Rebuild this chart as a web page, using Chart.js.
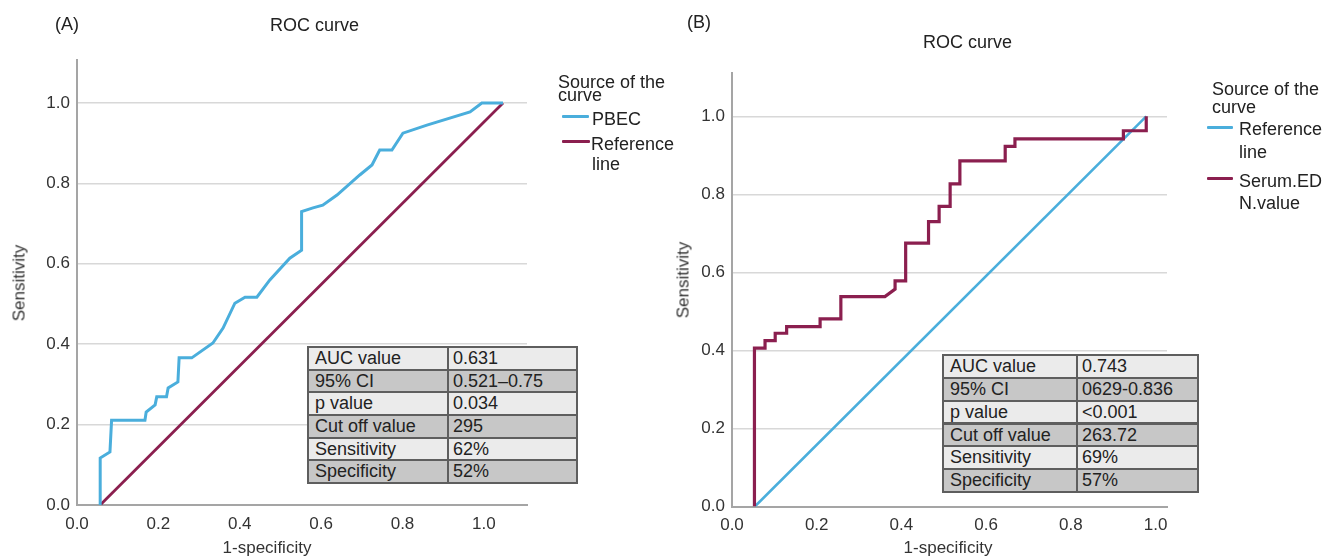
<!DOCTYPE html>
<html><head><meta charset="utf-8">
<script src="https://cdn.jsdelivr.net/npm/chart.js@4.4.1/dist/chart.umd.min.js"></script>
<style>
html,body{margin:0;padding:0;background:#fff;width:1326px;height:558px;overflow:hidden;position:relative;font-family:"Liberation Sans",Arial,sans-serif;}
canvas{position:absolute;top:0;}
#cA{left:0}
#cB{left:660px}
.t{position:absolute;font-size:18px;line-height:18px;color:#222;white-space:nowrap}
.ax{position:absolute;font-size:17px;line-height:17px;color:#333;white-space:nowrap;transform:translate(-50%,-50%)}
.ax.rot{transform:translate(-50%,-50%) rotate(-90deg)}
.sw{position:absolute;height:3px;border-radius:1px}
.tbl{position:absolute;background:#5e5e5e}
.cell{position:absolute;font-size:18px;line-height:18px;color:#222;white-space:nowrap;overflow:hidden;box-sizing:border-box}
</style></head>
<body>
<canvas id="cA" width="540" height="558"></canvas>
<canvas id="cB" width="666" height="558"></canvas>

<div class="t" style="left:55px;top:15px">(A)</div>
<div class="t" style="left:270px;top:16px">ROC curve</div>
<div class="t" style="left:687px;top:13px">(B)</div>
<div class="t" style="left:923px;top:33px">ROC curve</div>

<div class="ax rot" style="left:19px;top:283px">Sensitivity</div>
<div class="ax" style="left:267px;top:547px">1-specificity</div>
<div class="ax rot" style="left:683px;top:280px">Sensitivity</div>
<div class="ax" style="left:948px;top:547px">1-specificity</div>

<div class="t" style="left:558px;top:73px">Source of the</div>
<div class="t" style="left:558px;top:86px">curve</div>
<div class="sw" id="swA1" style="left:562px;top:115px;width:27px"></div>
<div class="t" style="left:592px;top:110px">PBEC</div>
<div class="sw" id="swA2" style="left:562px;top:140px;width:28px"></div>
<div class="t" style="left:591px;top:135px">Reference</div>
<div class="t" style="left:592px;top:155px">line</div>

<div class="t" style="left:1212px;top:80px">Source of the</div>
<div class="t" style="left:1212px;top:98px">curve</div>
<div class="sw" id="swB1" style="left:1207px;top:126px;width:26px"></div>
<div class="t" style="left:1239px;top:120px">Reference</div>
<div class="t" style="left:1239px;top:143px">line</div>
<div class="sw" id="swB2" style="left:1207px;top:177px;width:26px"></div>
<div class="t" style="left:1239px;top:172px">Serum.ED</div>
<div class="t" style="left:1239px;top:194px">N.value</div>

<div class="tbl" id="tA" style="left:307px;top:346px;width:271px;height:138px"></div>
<div class="tbl" id="tB" style="left:942px;top:354px;width:257px;height:139px"></div>

<script>
const FONT = '"Liberation Sans", Arial, sans-serif';
const BLUE = '#4aaedc';
const MAROON = '#8b1f4f';

const xTickValues = [0, 0.2, 0.4, 0.6, 0.8, 1.0];
const yTickValues = [0, 0.2, 0.4, 0.6, 0.8, 1.0];

// Panel A: PBEC ROC curve (1-specificity, sensitivity)
const pbecX = [0.057, 0.057, 0.081, 0.085, 0.167, 0.170, 0.192, 0.196, 0.220, 0.224, 0.248, 0.251, 0.282, 0.334, 0.359, 0.388, 0.413, 0.442, 0.474, 0.523, 0.552, 0.552, 0.580, 0.604, 0.639, 0.695, 0.725, 0.744, 0.774, 0.801, 0.860, 0.966, 0.995, 1.047];
const pbecY = [0.000, 0.117, 0.132, 0.211, 0.211, 0.231, 0.249, 0.269, 0.269, 0.291, 0.306, 0.366, 0.366, 0.403, 0.440, 0.502, 0.517, 0.517, 0.560, 0.614, 0.634, 0.730, 0.739, 0.746, 0.771, 0.821, 0.846, 0.883, 0.883, 0.925, 0.945, 0.978, 1.000, 1.000];
const refAX = [0.057, 1.047];
const refAY = [0, 1];

// Panel B: Serum EDN ROC curve
const serumX = [0.053, 0.053, 0.078, 0.078, 0.102, 0.102, 0.129, 0.129, 0.208, 0.208, 0.257, 0.257, 0.361, 0.385, 0.385, 0.410, 0.410, 0.464, 0.464, 0.489, 0.489, 0.515, 0.515, 0.538, 0.538, 0.645, 0.645, 0.668, 0.668, 0.924, 0.924, 0.978, 0.978];
const serumY = [0.000, 0.406, 0.406, 0.425, 0.425, 0.444, 0.444, 0.461, 0.461, 0.481, 0.481, 0.538, 0.538, 0.557, 0.578, 0.578, 0.675, 0.675, 0.730, 0.730, 0.769, 0.769, 0.827, 0.827, 0.886, 0.886, 0.923, 0.923, 0.942, 0.942, 0.963, 0.963, 1.000];
const refBX = [0.054, 0.978];
const refBY = [0, 1];

const statLabels = ['AUC value', '95% CI', 'p value', 'Cut off value', 'Sensitivity', 'Specificity'];
const statsA = ['0.631', '0.521\u20130.75', '0.034', '295', '62%', '52%'];
const statsB = ['0.743', '0629-0.836', '<0.001', '263.72', '69%', '57%'];

function pts(xs, ys) { return xs.map((x, i) => ({x: x, y: ys[i]})); }
function line(xs, ys, color, w) {
  return {data: pts(xs, ys), borderColor: color, backgroundColor: color, borderWidth: w,
          pointRadius: 0, showLine: true, fill: false, tension: 0};
}

function roc(id, g, datasets) {
  return new Chart(document.getElementById(id), {
    type: 'scatter',
    data: {datasets: datasets},
    options: {
      responsive: false, animation: false, events: [],
      layout: {padding: {top: g.top, right: g.right, left: 0, bottom: 0}},
      plugins: {legend: {display: false}, tooltip: {enabled: false}, title: {display: false}},
      scales: {
        x: {
          type: 'linear', min: 0, max: g.xMax,
          afterFit: s => { s.height = g.xH; },
          afterBuildTicks: s => { s.ticks = xTickValues.map(v => ({value: v})); },
          grid: {display: false, drawTicks: false},
          border: {display: true, color: '#a5a5a5', width: 2},
          ticks: {padding: g.xPad, color: '#333', font: {family: FONT, size: 17},
                  callback: v => Number(v).toFixed(1), maxRotation: 0, autoSkip: false}
        },
        y: {
          type: 'linear', min: 0, max: g.yMax,
          afterFit: s => { s.width = g.yW; },
          afterBuildTicks: s => { s.ticks = yTickValues.map(v => ({value: v})); },
          grid: {color: c => (c.tick && c.tick.value === 0) ? 'rgba(0,0,0,0)' : '#d8d8d8',
                 lineWidth: 1.5, drawTicks: false},
          border: {display: true, color: '#a5a5a5', width: 2},
          ticks: {padding: 7, color: '#333', font: {family: FONT, size: 17},
                  callback: v => Number(v).toFixed(1), autoSkip: false}
        }
      }
    }
  });
}

roc('cA', {top: 60, right: 13, xH: 53, yW: 77, xMax: 1.106, yMax: 1.107, xPad: 9},
    [line(pbecX, pbecY, BLUE, 3), line(refAX, refAY, MAROON, 2.8)]);
roc('cB', {top: 73, right: 159, xH: 51.5, yW: 72, xMax: 1.027, yMax: 1.111, xPad: 9},
    [line(serumX, serumY, MAROON, 3.2), line(refBX, refBY, BLUE, 2.6)]);

document.getElementById('swA1').style.background = BLUE;
document.getElementById('swA2').style.background = MAROON;
document.getElementById('swB1').style.background = BLUE;
document.getElementById('swB2').style.background = MAROON;

function buildTable(id, col1, values) {
  const el = document.getElementById(id);
  const W = el.offsetWidth, H = el.offsetHeight;
  const stride = (H - 2) / statLabels.length;
  statLabels.forEach((lab, i) => {
    const bg = (i % 2 === 0) ? '#ebebeb' : '#c7c7c7';
    const top = 2 + i * stride, h = stride - 2;
    const c1 = document.createElement('div');
    c1.className = 'cell';
    c1.style.cssText = `left:2px;top:${top}px;width:${col1 - 3}px;height:${h}px;background:${bg};padding-left:6px;padding-top:1px;`;
    c1.textContent = lab;
    const c2 = document.createElement('div');
    c2.className = 'cell';
    c2.style.cssText = `left:${col1 + 1}px;top:${top}px;width:${W - col1 - 3}px;height:${h}px;background:${bg};padding-left:4px;padding-top:1px;`;
    c2.textContent = values[i];
    el.appendChild(c1); el.appendChild(c2);
  });
}
buildTable('tA', 141, statsA);
buildTable('tB', 135, statsB);
</script>
</body></html>
